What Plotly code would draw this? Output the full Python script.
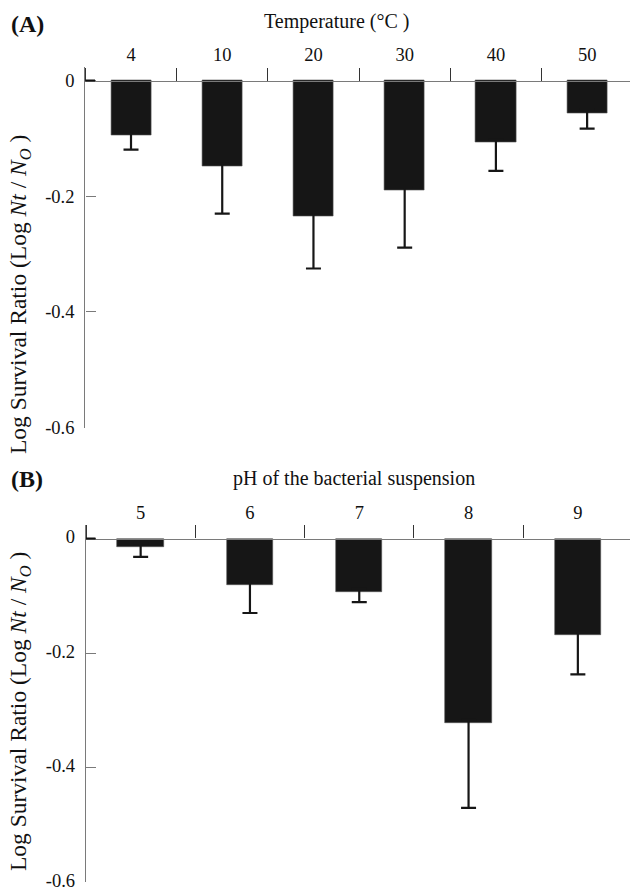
import plotly.graph_objects as go

# ---- data ----
temp_labels = ["4", "10", "20", "30", "40", "50"]
temp_means = [-0.094, -0.149, -0.2345, -0.190, -0.1075, -0.056]
temp_err = [0.0255, 0.081, 0.0905, 0.099, 0.0485, 0.027]

ph_labels = ["5", "6", "7", "8", "9"]
ph_means = [-0.015, -0.081, -0.094, -0.3225, -0.168]
ph_err = [0.017, 0.049, 0.017, 0.1475, 0.069]

y_tickvals = [0, -0.2, -0.4, -0.6]
y_ticktext = ["0", "-0.2", "-0.4", "-0.6"]

W, H = 630, 891
FONT = "Liberation Serif, Times New Roman, serif"
BAR = "#161616"
AX = "#7a7a7a"
HIDDEN_UP = 0.006  # upper error bar tucked inside the bar (hides its cap)


def py(p):
    return 1 - p / H


def px(p):
    return p / W


fig = go.Figure()

fig.add_trace(go.Bar(
    x=temp_labels, y=temp_means, width=0.44,
    marker=dict(color=BAR, line=dict(color="#555", width=0.6)),
    error_y=dict(type="data", symmetric=False,
                 array=[HIDDEN_UP] * len(temp_err),
                 arrayminus=temp_err, color=BAR, thickness=2.2, width=7.5),
    xaxis="x", yaxis="y", showlegend=False))

fig.add_trace(go.Bar(
    x=ph_labels, y=ph_means, width=0.425,
    marker=dict(color=BAR, line=dict(color="#555", width=0.6)),
    error_y=dict(type="data", symmetric=False,
                 array=[HIDDEN_UP] * len(ph_err),
                 arrayminus=ph_err, color=BAR, thickness=2.2, width=7.5),
    xaxis="x2", yaxis="y2", showlegend=False))

tickfont = dict(family=FONT, size=18.5, color="#111")

xcommon = dict(type="category", side="top", anchor="free", tickson="boundaries",
               ticks="outside", ticklen=13, tickwidth=1.2, tickcolor="#333",
               showline=True, linecolor=AX, linewidth=1.4, showgrid=False,
               zeroline=False, tickfont=tickfont, fixedrange=True,
               automargin=False, ticklabeloverflow="allow")
ycommon = dict(tickvals=y_tickvals, ticktext=y_ticktext, ticks="inside",
               ticklen=10, tickwidth=1.2, tickcolor=AX, showline=True,
               linecolor=AX, linewidth=1.4, showgrid=False, zeroline=False,
               tickfont=tickfont, ticklabelstandoff=6, fixedrange=True,
               automargin=False, ticklabeloverflow="allow")

fig.update_layout(
    width=W, height=H, margin=dict(l=0, r=0, t=0, b=0),
    paper_bgcolor="white", plot_bgcolor="white", bargap=0,
    font=dict(family=FONT),
    xaxis=dict(xcommon, domain=[px(85.4), 1], range=[-0.5, 5.47],
               position=py(80.7), ticklabelstandoff=12),
    yaxis=dict(ycommon, domain=[py(427.5), py(67.3)], range=[-0.6, 0.023],
               anchor="x"),
    xaxis2=dict(xcommon, domain=[px(86), 1], range=[-0.5, 4.477],
                position=py(538.5), ticklabelstandoff=12),
    yaxis2=dict(ycommon, domain=[py(882.3), py(525)], range=[-0.6, 0.0236],
                anchor="x2", ticklabelshift=-2),
)

# darker zero tick on each y axis
fig.add_shape(type="line", xref="paper", yref="y", x0=px(85.4), x1=px(95),
              y0=0, y1=0, line=dict(color="#111", width=2))
fig.add_shape(type="line", xref="paper", yref="y2", x0=px(86), x1=px(95.5),
              y0=0, y1=0, line=dict(color="#111", width=2))

ann_font = dict(family=FONT, size=20, color="#111")
ytitle = "Log Survival Ratio (Log <i>Nt</i> / <i>N<sub>O</sub></i> )"
anns = [
    dict(text="<b>(A)</b>", x=px(27), y=py(24)),
    dict(text="<b>(B)</b>", x=px(27), y=py(479)),
    dict(text="Temperature (°C )", x=px(336), y=py(21)),
    dict(text="pH of the bacterial suspension", x=px(353.5), y=py(478)),
    dict(text=ytitle, x=px(20), y=py(295), textangle=-90),
    dict(text=ytitle, x=px(20), y=py(712), textangle=-90),
]
for a in anns:
    f = dict(ann_font)
    if a["text"].startswith("<b>"):
        f["size"] = 24
    if a["text"] == ytitle:
        f["size"] = 23.5
    fig.add_annotation(xref="paper", yref="paper", showarrow=False,
                       xanchor="center", yanchor="middle", font=f, **a)

fig.write_html("out.html", config={"displayModeBar": False},
               post_script="document.body.style.margin='0';"
                           "document.body.style.overflow='hidden';")
